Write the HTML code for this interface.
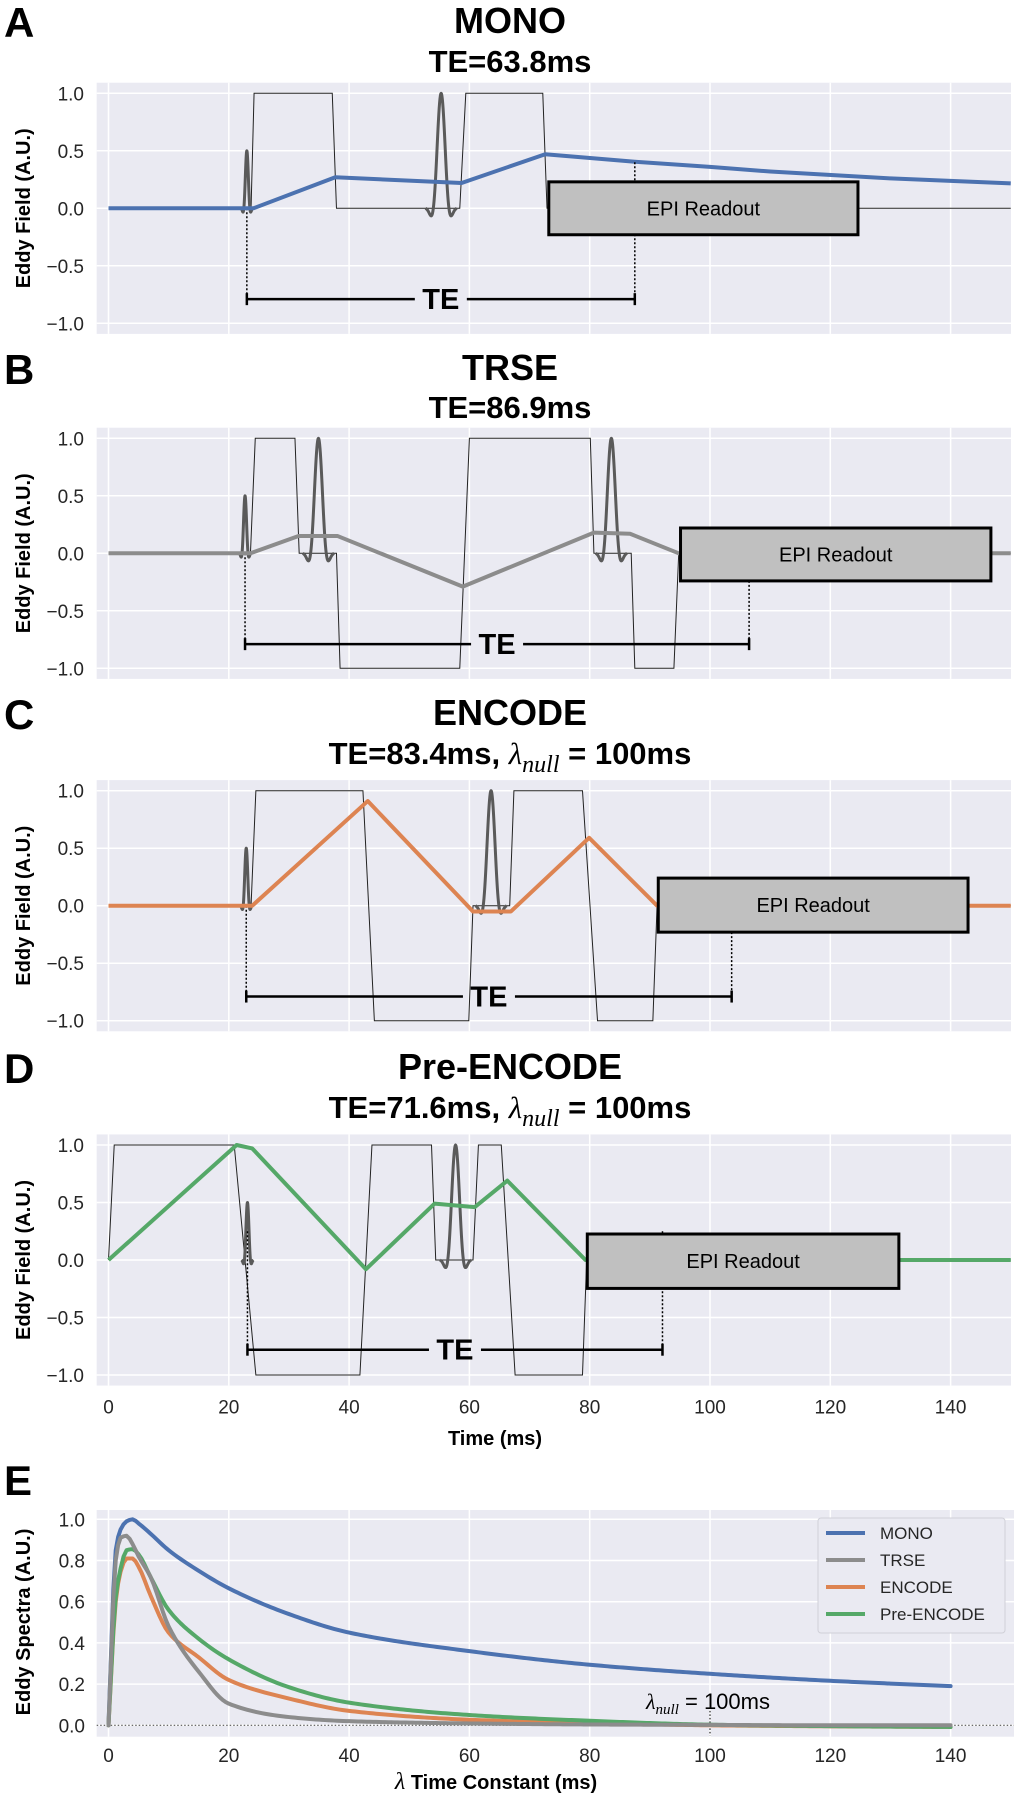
<!DOCTYPE html>
<html><head><meta charset="utf-8">
<style>
html,body{margin:0;padding:0;background:#fff;}
svg{display:block;font-family:"Liberation Sans",Arial,sans-serif;}
</style></head>
<body>
<svg id="fig" width="1015" height="1800" viewBox="0 0 1015 1800" xmlns="http://www.w3.org/2000/svg"></svg>
<script>
// ---------- shared ticks ----------
const timeTicks=[0,20,40,60,80,100,120,140];
const timeTickLabels=['0','20','40','60','80','100','120','140'];
const fieldTicks=[-1,-0.5,0,0.5,1];
const fieldTickLabels=['\u22121.0','\u22120.5','0.0','0.5','1.0'];
const spectraTicks=[0,0.2,0.4,0.6,0.8,1.0];
const spectraTickLabels=['0.0','0.2','0.4','0.6','0.8','1.0'];

// ---------- panel A: MONO ----------
const monoGradT=[0,23.7,24.2,37.2,37.9,58.4,59.4,72.2,72.9,150];
const monoGradV=[0,0,1,1,0,0,1,1,0,0];
const monoEddyT=[0,24.1,37.7,58.7,72.6,87.5,100,110,130,150];
const monoEddyV=[0,0,0.27,0.22,0.47,0.405,0.36,0.32,0.26,0.217];
const monoRFCenter=[23.0,55.3];
const monoRFAmp=[0.5,1.0];
const monoRFWidth=[0.5,1.3];
const monoReadout=[73.2,124.6,0.23,-0.23];
const monoTE=[23.0,87.5,-0.79,0.40];

// ---------- panel B: TRSE ----------
const trseGradT=[0,23.6,24.4,31,31.7,37.9,38.5,58.4,60,80.1,80.7,86.9,87.5,94,94.8,150];
const trseGradV=[0,0,1,1,0,0,-1,-1,1,1,0,0,-1,-1,0,0];
const trseEddyT=[0,23.6,31.6,38.1,58.9,80.7,86.7,94.8,150];
const trseEddyV=[0,0,0.15,0.15,-0.29,0.18,0.17,0,0];
const trseRFCenter=[22.7,34.9,83.6];
const trseRFAmp=[0.5,1.0,1.0];
const trseRFWidth=[0.5,1.3,1.3];
const trseReadout=[95.1,146.7,0.22,-0.24];
const trseTE=[22.7,106.5,-0.79,-0.24];

// ---------- panel C: ENCODE ----------
const encGradT=[0,23.7,24.5,42.3,44.2,59.9,60.6,66.7,67.4,78.8,81.3,90.5,91.2,150];
const encGradV=[0,0,1,1,-1,-1,0,0,1,1,-1,-1,0,0];
const encEddyT=[0,23.9,43.1,60.6,66.9,79.9,91.2,150];
const encEddyV=[0,0,0.91,-0.05,-0.05,0.59,0,0];
const encRFCenter=[22.9,63.6];
const encRFAmp=[0.5,1.0];
const encRFWidth=[0.5,1.3];
const encReadout=[91.4,142.9,0.24,-0.23];
const encTE=[22.9,103.6,-0.79,-0.23];

// ---------- panel D: Pre-ENCODE ----------
const preGradT=[0,0.95,20.9,24.5,41.8,43.8,53.7,54.4,60.6,61.5,65.3,67.6,78.8,79.5,150];
const preGradV=[0,1,1,-1,-1,1,1,0,0,1,1,-1,-1,0,0];
const preEddyT=[0,21.3,23.9,42.8,54.2,60.9,66.3,79.3,150];
const preEddyV=[0,1,0.97,-0.08,0.49,0.46,0.69,0,0];
const preRFCenter=[23.1,57.7];
const preRFAmp=[0.5,1.0];
const preRFWidth=[0.5,1.3];
const preReadout=[79.6,131.4,0.226,-0.247];
const preTE=[23.1,92.1,-0.78,0.25];

// ---------- panel E: spectra ----------
const lambdaValues=[0,1.2,2,3,4,5,7,10,15,20,30,40,60,80,100,120,140];
const monoSpectrum=[0,0.85,0.95,0.99,1.0,0.98,0.93,0.85,0.75,0.665,0.54,0.45,0.36,0.294,0.25,0.216,0.19];
const trseSpectrum=[0,0.8,0.91,0.92,0.88,0.82,0.72,0.48,0.26,0.105,0.04,0.02,0.009,0.004,0.002,0,0];
const encodeSpectrum=[0,0.6,0.745,0.81,0.81,0.77,0.63,0.45,0.33,0.22,0.13,0.07,0.027,0.011,0,-0.005,-0.008];
const preSpectrum=[0,0.62,0.76,0.85,0.855,0.83,0.72,0.56,0.42,0.32,0.185,0.11,0.05,0.022,0.003,-0.004,-0.008];
const lambdaNull=100;

// ---------- helpers ----------
const NS='http://www.w3.org/2000/svg';
const svg=document.getElementById('fig');
function mk(tag,attrs,parent){const e=document.createElementNS(NS,tag);for(const k in attrs)e.setAttribute(k,attrs[k]);(parent||svg).appendChild(e);return e;}
const X0=108.5, XS=6.015;
function xT(ms){return X0+XS*ms;}
const PL=96.7, PR=1011;
const YS=115;
function monotoneSample(xs,ys,step){
  const n=xs.length,d=[],m=new Array(n);
  for(let i=0;i<n-1;i++)d.push((ys[i+1]-ys[i])/(xs[i+1]-xs[i]));
  m[0]=d[0];m[n-1]=d[n-2];
  for(let i=1;i<n-1;i++){
    if(d[i-1]*d[i]<=0)m[i]=0;
    else{const h0=xs[i]-xs[i-1],h1=xs[i+1]-xs[i];const w1=2*h1+h0,w2=h1+2*h0;m[i]=(w1+w2)/(w1/d[i-1]+w2/d[i]);}
  }
  const out=[];
  for(let i=0;i<n-1;i++){
    const h=xs[i+1]-xs[i];const k=Math.max(2,Math.ceil(h/step));
    for(let j=0;j<k;j++){
      const t=j/k,t2=t*t,t3=t2*t;
      const y=(2*t3-3*t2+1)*ys[i]+(t3-2*t2+t)*h*m[i]+(-2*t3+3*t2)*ys[i+1]+(t3-t2)*h*m[i+1];
      out.push([xs[i]+t*h,y]);
    }
  }
  out.push([xs[n-1],ys[n-1]]);
  return out;
}

const panels=[
 {key:'mono',letter:'A',title:'MONO',sub:'TE=63.8ms',lam:false,y0:208.3,tBase:33,sBase:72,gT:monoGradT,gV:monoGradV,eT:monoEddyT,eV:monoEddyV,rc:monoRFCenter,ra:monoRFAmp,rw:monoRFWidth,ro:monoReadout,te:monoTE,color:'#4c72b0',xt:false},
 {key:'trse',letter:'B',title:'TRSE',sub:'TE=86.9ms',lam:false,y0:553.3,tBase:380,sBase:418,gT:trseGradT,gV:trseGradV,eT:trseEddyT,eV:trseEddyV,rc:trseRFCenter,ra:trseRFAmp,rw:trseRFWidth,ro:trseReadout,te:trseTE,color:'#8c8c8c',xt:false},
 {key:'encode',letter:'C',title:'ENCODE',sub:'TE=83.4ms, ',lam:true,y0:905.7,tBase:725,sBase:764,gT:encGradT,gV:encGradV,eT:encEddyT,eV:encEddyV,rc:encRFCenter,ra:encRFAmp,rw:encRFWidth,ro:encReadout,te:encTE,color:'#dd8452',xt:false},
 {key:'pre-encode',letter:'D',title:'Pre-ENCODE',sub:'TE=71.6ms, ',lam:true,y0:1260,tBase:1079,sBase:1118,gT:preGradT,gV:preGradV,eT:preEddyT,eV:preEddyV,rc:preRFCenter,ra:preRFAmp,rw:preRFWidth,ro:preReadout,te:preTE,color:'#55a868',xt:true}
];

panels.forEach(p=>{
  const g=mk('g',{});
  
  
  const yv=v=>p.y0-YS*v;
  const L=mk('text',{x:4,y:p.tBase+4,'font-size':42,'font-weight':'bold',fill:'#000'},g);L.textContent=p.letter;
  
  const T=mk('text',{x:510,y:p.tBase,'font-size':36,'font-weight':'bold','text-anchor':'middle',fill:'#000'},g);T.textContent=p.title;
  
  const S=mk('text',{x:510,y:p.sBase,'font-size':31,'font-weight':'bold','text-anchor':'middle',fill:'#000'},g);
  
  if(p.lam){
    const a=mk('tspan',{},S);a.textContent=p.sub;
    const b=mk('tspan',{'font-family':'Liberation Serif, serif','font-style':'italic','font-weight':'normal'},S);b.textContent='\u03bb';
    const c=mk('tspan',{'font-family':'Liberation Serif, serif','font-style':'italic','font-weight':'normal','font-size':24,dy:8},S);c.textContent='null';
    const d=mk('tspan',{dy:-8},S);d.textContent=' = 100ms';
  } else S.textContent=p.sub;
  const bg=mk('rect',{x:PL,y:yv(1.092),width:PR-PL,height:YS*2.184,fill:'#eaeaf2'},g);
  
  timeTicks.forEach((t,i)=>{
    const l=mk('line',{x1:xT(t),x2:xT(t),y1:yv(1.092),y2:yv(-1.092),stroke:'#fff','stroke-width':1.5},g);
    
    if(p.xt){const tl=mk('text',{x:xT(t),y:p.y0+YS*1.092+28,'font-size':19,'text-anchor':'middle',fill:'#262626'},g);tl.textContent=timeTickLabels[i];
      }
  });
  fieldTicks.forEach((v,i)=>{
    const l=mk('line',{x1:PL,x2:PR,y1:yv(v),y2:yv(v),stroke:'#fff','stroke-width':1.5},g);
    
    const tl=mk('text',{x:84,y:yv(v)+7,'font-size':19,'text-anchor':'end',fill:'#262626'},g);tl.textContent=fieldTickLabels[i];
    
  });
  const yl=mk('text',{x:0,y:0,'font-size':20,'font-weight':'bold','text-anchor':'middle',fill:'#000',transform:`translate(30,${p.y0}) rotate(-90)`},g);
  yl.textContent='Eddy Field (A.U.)';
  const gp=mk('polyline',{points:p.gT.map((t,i)=>xT(t)+','+yv(p.gV[i])).join(' '),fill:'none',stroke:'#222','stroke-width':1},g);
  
  p.rc.forEach((c,i)=>{
    const pts=[];const w=p.rw[i],A=p.ra[i];
    for(let k=-40;k<=40;k++){const u=k/20;const s=u===0?1:Math.sin(Math.PI*u)/(Math.PI*u);const win=0.54+0.46*Math.cos(Math.PI*u/2);pts.push(xT(c+u*w)+','+yv(A*s*win));}
    const rp=mk('polyline',{points:pts.join(' '),fill:'none',stroke:'#5a5a5a','stroke-width':3,'stroke-linejoin':'round'},g);
    
  });
  const d1=mk('line',{x1:xT(p.te[0]),x2:xT(p.te[0]),y1:yv(p.key==='pre-encode'?0.25:0),y2:yv(p.te[2]),stroke:'#000','stroke-width':1.5,'stroke-dasharray':'2,2'},g);
  
  const ep=mk('polyline',{points:p.eT.map((t,i)=>xT(t)+','+yv(p.eV[i])).join(' '),fill:'none',stroke:p.color,'stroke-width':4,'stroke-linejoin':'round'},g);
  
  const d2=mk('line',{x1:xT(p.te[1]),x2:xT(p.te[1]),y1:yv(p.te[3]),y2:yv(p.te[2]),stroke:'#000','stroke-width':1.5,'stroke-dasharray':'2,2'},g);
  
  const bx=mk('rect',{x:xT(p.ro[0]),y:yv(p.ro[2]),width:xT(p.ro[1])-xT(p.ro[0]),height:yv(p.ro[3])-yv(p.ro[2]),fill:'#c0c0c0',stroke:'#000','stroke-width':3},g);
  
  const bt=mk('text',{x:(xT(p.ro[0])+xT(p.ro[1]))/2,y:(yv(p.ro[2])+yv(p.ro[3]))/2+7,'font-size':20,'text-anchor':'middle',fill:'#000'},g);
  bt.textContent='EPI Readout';
  const tx0=xT(p.te[0]),tx1=xT(p.te[1]),ty=yv(p.te[2]),tm=(tx0+tx1)/2;
  const br=mk('g',{},g);
  mk('line',{x1:tx0,x2:tm-26,y1:ty,y2:ty,stroke:'#000','stroke-width':2.5},br);
  mk('line',{x1:tm+26,x2:tx1,y1:ty,y2:ty,stroke:'#000','stroke-width':2.5},br);
  mk('line',{x1:tx0,x2:tx0,y1:ty-6,y2:ty+6,stroke:'#000','stroke-width':2.5},br);
  mk('line',{x1:tx1,x2:tx1,y1:ty-6,y2:ty+6,stroke:'#000','stroke-width':2.5},br);
  const tt=mk('text',{x:tm,y:ty+10,'font-size':29,'font-weight':'bold','text-anchor':'middle',fill:'#000'},br);tt.textContent='TE';
});
const xtitle=mk('text',{x:495,y:1445,'font-size':20,'font-weight':'bold','text-anchor':'middle',fill:'#000'});
xtitle.textContent='Time (ms)';



// ---------- panel E ----------
const EY0=1725.3, EYS=206;
function yE(v){return EY0-EYS*v;}
const ge=mk('g',{});


const eL=mk('text',{x:4,y:1495,'font-size':42,'font-weight':'bold',fill:'#000'},ge);eL.textContent='E';

const ebg=mk('rect',{x:PL,y:1510,width:PR-PL+3,height:226.7,fill:'#eaeaf2'},ge);

timeTicks.forEach((t,i)=>{
  const l=mk('line',{x1:xT(t),x2:xT(t),y1:1510,y2:1736.7,stroke:'#fff','stroke-width':1.5},ge);
  
  const tl=mk('text',{x:xT(t),y:1762,'font-size':19,'text-anchor':'middle',fill:'#262626'},ge);tl.textContent=timeTickLabels[i];
  
});
spectraTicks.forEach((v,i)=>{
  const l=mk('line',{x1:PL,x2:PR+3,y1:yE(v),y2:yE(v),stroke:'#fff','stroke-width':1.5},ge);
  
  const tl=mk('text',{x:85,y:yE(v)+7,'font-size':19,'text-anchor':'end',fill:'#262626'},ge);tl.textContent=spectraTickLabels[i];
  
});
const z=mk('line',{x1:PL,x2:PR+3,y1:yE(0),y2:yE(0),stroke:'#555','stroke-width':1.2,'stroke-dasharray':'1.5,2'},ge);

const nl=mk('line',{x1:xT(lambdaNull),x2:xT(lambdaNull),y1:yE(0.07),y2:yE(-0.05),stroke:'#222','stroke-width':1.2,'stroke-dasharray':'1.5,2'},ge);

const series=[['mono',monoSpectrum,'#4c72b0','MONO'],['trse',trseSpectrum,'#8c8c8c','TRSE'],['encode',encodeSpectrum,'#dd8452','ENCODE'],['pre-encode',preSpectrum,'#55a868','Pre-ENCODE']];
[series[0],series[2],series[3],series[1]].forEach(s=>{
  const pts=monotoneSample(lambdaValues,s[1],0.5).map(q=>xT(q[0]).toFixed(2)+','+yE(q[1]).toFixed(2));
  const pl=mk('polyline',{points:pts.join(' '),fill:'none',stroke:s[2],'stroke-width':4,'stroke-linejoin':'round','stroke-linecap':'round'},ge);
  
  
});
const ln=mk('text',{x:646,y:1709,'font-size':22,fill:'#000'},ge);

{const a=mk('tspan',{'font-family':'Liberation Serif, serif','font-style':'italic'},ln);a.textContent='\u03bb';
 const b=mk('tspan',{'font-family':'Liberation Serif, serif','font-style':'italic','font-size':15,dy:5},ln);b.textContent='null';
 const c=mk('tspan',{dy:-5},ln);c.textContent=' = 100ms';}
const lg=mk('g',{},ge);


mk('rect',{x:818,y:1518,width:187,height:115,rx:3,fill:'#eaeaf2',stroke:'#d0d0d8','stroke-width':1},lg);
series.forEach((s,i)=>{
  const yy=1533+i*27;
  const it=mk('g',{},lg);
  
  
  mk('line',{x1:826,x2:865,y1:yy,y2:yy,stroke:s[2],'stroke-width':4},it);
  const t=mk('text',{x:880,y:yy+6,'font-size':17,fill:'#262626'},it);t.textContent=s[3];
});
const eyl=mk('text',{x:0,y:0,'font-size':20,'font-weight':'bold','text-anchor':'middle',fill:'#000',transform:'translate(30,1622) rotate(-90)'},ge);
eyl.textContent='Eddy Spectra (A.U.)';
const ext=mk('text',{x:496,y:1789,'font-size':20,'font-weight':'bold','text-anchor':'middle',fill:'#000'},ge);

{const a=mk('tspan',{'font-family':'Liberation Serif, serif','font-style':'italic','font-weight':'normal','font-size':24},ext);a.textContent='\u03bb';
 const b=mk('tspan',{},ext);b.textContent=' Time Constant (ms)';}
</script>
</body></html>
